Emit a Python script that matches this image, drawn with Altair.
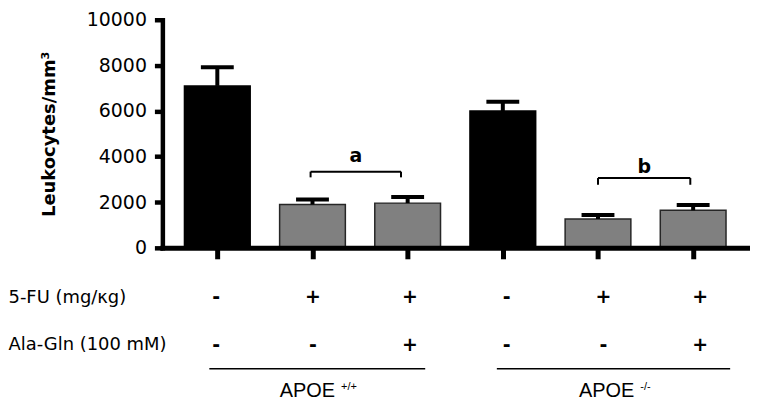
import json
import altair as alt
import pandas as pd

# ---------------- data ----------------
bar_index = [0, 1, 2, 3, 4, 5]
means = [7100, 1900, 1960, 6000, 1265, 1645]
errors = [820, 220, 265, 405, 175, 235]
fu_signs = ["-", "+", "+", "-", "+", "+"]
alagln_signs = ["-", "-", "+", "-", "-", "+"]
row_labels = ["5-FU (mg/κg)", "Ala-Gln (100 mM)"]
y_ticks = [0, 2000, 4000, 6000, 8000, 10000]

bracket_labels = ["a", "b"]
bracket_start = [0.98, 4.0]
bracket_end = [1.93, 4.97]
bracket_top = [3340, 3060]
bracket_low = [3090, 2765]
bracket_text_y = [3760, 3300]

group_names = ["APOE", "APOE"]
group_sup = ["+/+", "-/-"]
group_start = [-0.04, 2.93]
group_end = [2.19, 5.34]
group_label_x = [1.28, 4.37]

# ---------------- frames ----------------
bars_df = pd.DataFrame({"i": bar_index, "mean": means, "err": errors, "fu": fu_signs})
bars_df["top"] = bars_df["mean"] + bars_df["err"]

br_df = pd.DataFrame({
    "label": bracket_labels, "start": bracket_start, "end": bracket_end,
    "top": bracket_top, "low": bracket_low, "ty": bracket_text_y,
})
br_df["mid"] = (br_df["start"] + br_df["end"]) / 2

signs_df = pd.DataFrame({
    "i": bar_index * 2,
    "row": [0] * len(bar_index) + [1] * len(bar_index),
    "sign": fu_signs + alagln_signs,
})

grp_df = pd.DataFrame({
    "name": group_names, "sup": group_sup, "start": group_start,
    "end": group_end, "lx": group_label_x,
})

# ---------------- scales ----------------
W = 590
xs = alt.Scale(domain=[-0.525, 5.545], nice=False, zero=False)
ys = alt.Scale(domain=[0, 10000], nice=False, zero=True)
ys_b = alt.Scale(domain=[-0.74, 2.18], nice=False, zero=False, reverse=True)

x_axis = alt.Axis(values=bar_index, labels=False, title=None, grid=False,
                  tickSize=11, tickWidth=5, tickColor="black",
                  domainWidth=5, domainColor="black", domainCap="square",
                  zindex=1)
y_axis = alt.Axis(values=y_ticks, format="d", title="Leukocytes/mm³", grid=False,
                  tickSize=8, tickWidth=4.5, tickColor="black",
                  domainWidth=4.5, domainColor="black", domainCap="square",
                  labelFont="DejaVu Sans", labelFontSize=19, labelColor="black",
                  labelPadding=8, titleFont="DejaVu Sans", titleFontSize=18,
                  titleFontWeight="bold", titleColor="black", titlePadding=28,
                  zindex=1)

base = alt.Chart(bars_df)
bars = base.mark_bar(size=66, strokeWidth=1.5).encode(
    x=alt.X("i:Q", scale=xs, axis=x_axis),
    y=alt.Y("mean:Q", scale=ys, axis=y_axis),
    fill=alt.Fill("fu:N", scale=alt.Scale(domain=["-", "+"], range=["#000000", "#808080"]), legend=None),
    stroke=alt.Stroke("fu:N", scale=alt.Scale(domain=["-", "+"], range=["#000000", "#262626"]), legend=None),
)
stems = base.mark_rule(strokeWidth=4, color="black").encode(
    x="i:Q", y="mean:Q", y2="top:Q")
caps = base.mark_tick(orient="horizontal", size=33, thickness=4, color="black", opacity=1).encode(
    x="i:Q", y="top:Q")

brb = alt.Chart(br_df)
br_h = brb.mark_rule(strokeWidth=2, color="black").encode(x="start:Q", x2="end:Q", y="top:Q")
br_l = brb.mark_rule(strokeWidth=2, color="black").encode(x="start:Q", y="low:Q", y2="top:Q")
br_r = brb.mark_rule(strokeWidth=2, color="black").encode(x="end:Q", y="low:Q", y2="top:Q")
br_t = brb.mark_text(font="DejaVu Sans", fontSize=19, fontWeight="bold", baseline="alphabetic", color="black").encode(
    x="mid:Q", y="ty:Q", text="label:N")

top = alt.layer(bars, stems, caps, br_h, br_l, br_r, br_t).properties(width=W, height=229)

label_expr = json.dumps(row_labels, ensure_ascii=False) + "[datum.value]"
signs = alt.Chart(signs_df).mark_text(
    font="DejaVu Sans", fontSize=19, fontWeight="bold", dx=3, baseline="middle", color="black"
).encode(
    x=alt.X("i:Q", scale=xs, axis=None),
    y=alt.Y("row:Q", scale=ys_b, axis=alt.Axis(
        values=[0, 1], labelExpr=label_expr, domain=False, ticks=False, tickSize=0,
        grid=False, labelAlign="left", labelPadding=155, labelFont="DejaVu Sans",
        labelFontSize=18, labelColor="black", labelBaseline="middle", title=None)),
    text="sign:N",
)
gb = alt.Chart(grp_df)
glines = gb.mark_rule(strokeWidth=1.5, color="black").encode(
    x="start:Q", x2="end:Q", y=alt.datum(1.5))
gnames = gb.mark_text(font="Liberation Sans", fontSize=20, align="right", dx=-2,
                      baseline="middle", color="black").encode(
    x="lx:Q", y=alt.datum(1.97), text="name:N")
gsups = gb.mark_text(font="Liberation Sans", fontSize=11, align="left", dx=4,
                     baseline="middle", color="black").encode(
    x="lx:Q", y=alt.datum(1.89), text="sup:N")

bottom = alt.layer(signs, glines, gnames, gsups).properties(width=W, height=140)

chart = alt.vconcat(top, bottom, spacing=0).properties(
    padding={"left": 0, "top": 2, "right": 0, "bottom": 0}
).configure_view(stroke=None)

chart.save("out.html", embed_options={"renderer": "svg", "actions": False})
